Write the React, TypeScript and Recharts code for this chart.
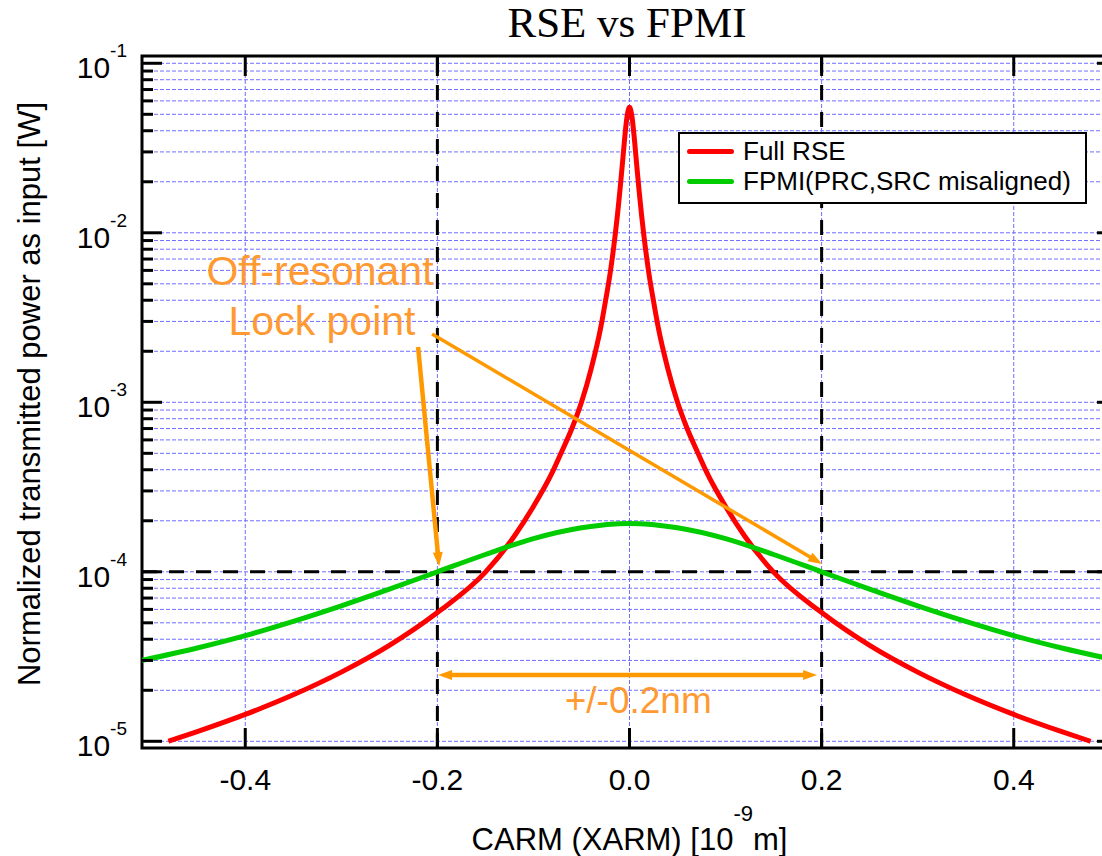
import React from 'react';
import {
  CartesianGrid,
  Legend,
  Line,
  LineChart,
  ReferenceArea,
  ReferenceDot,
  ReferenceLine,
  XAxis,
  YAxis,
} from 'recharts';

// CARM offset in 1e-9 m, transmitted power normalised to the input [W]
const rseX = [
  -0.48, -0.45, -0.4, -0.35, -0.3, -0.25, -0.2, -0.15, -0.12, -0.1, -0.08, -0.07, -0.06, -0.05,
  -0.04, -0.03, -0.025, -0.02, -0.015, -0.0125, -0.01, -0.0075, -0.005, -0.0025, 0, 0.0025, 0.005,
  0.0075, 0.01, 0.0125, 0.015, 0.02, 0.025, 0.03, 0.04, 0.05, 0.06, 0.07, 0.08, 0.1, 0.12, 0.15,
  0.2, 0.25, 0.3, 0.35, 0.4, 0.45, 0.48,
];
const rseP = [
  1.0e-5, 1.14e-5, 1.44e-5, 1.88e-5, 2.56e-5, 3.68e-5, 5.75e-5, 9.95e-5, 1.62e-4, 2.43e-4,
  3.9e-4, 5.2e-4, 7.0e-4, 1.0e-3, 1.57e-3, 2.75e-3, 3.95e-3, 5.85e-3, 9.6e-3, 1.28e-2, 1.77e-2,
  2.51e-2, 3.62e-2, 4.87e-2, 5.5e-2, 4.87e-2, 3.62e-2, 2.51e-2, 1.77e-2, 1.28e-2, 9.6e-3,
  5.85e-3, 3.95e-3, 2.75e-3, 1.57e-3, 1.0e-3, 7.0e-4, 5.2e-4, 3.9e-4, 2.43e-4, 1.62e-4, 9.95e-5,
  5.75e-5, 3.68e-5, 2.56e-5, 1.88e-5, 1.44e-5, 1.14e-5, 1.0e-5,
];

const fpmiX = [
  -0.5075, -0.45, -0.4, -0.35, -0.3, -0.25, -0.2, -0.15, -0.1, -0.05, 0, 0.05, 0.1, 0.15, 0.2,
  0.25, 0.3, 0.35, 0.4, 0.45, 0.5075,
];
const fpmiP = [
  3.0e-5, 3.55e-5, 4.2e-5, 5.1e-5, 6.3e-5, 7.9e-5, 1.0e-4, 1.265e-4, 1.57e-4, 1.82e-4, 1.93e-4,
  1.82e-4, 1.57e-4, 1.265e-4, 1.0e-4, 7.9e-5, 6.3e-5, 5.1e-5, 4.2e-5, 3.55e-5, 3.0e-5,
];

const seriesNames = ['Full RSE', 'FPMI(PRC,SRC misaligned)'];
const xTicks = [-0.4, -0.2, 0, 0.2, 0.4];
const yDecades = [1e-5, 1e-4, 1e-3, 1e-2, 1e-1];
const yMinorSteps = [2, 3, 4, 5, 6, 7, 8, 9];
const lockX = [-0.2, 0.2];
const lockPower = 1e-4;

// annotation anchors in data units
const lockTextLines = ['Off-resonant', 'Lock point'];
const lockTextX = [-0.3222, -0.3201];
const lockTextY = [4.92e-3, 2.49e-3];
const arrowLeft = [{ x: -0.2201, y: 2.12e-3 }, { x: -0.1982, y: 1.08e-4 }];
const arrowRight = [{ x: -0.2055, y: 2.53e-3 }, { x: 0.2005, y: 1.11e-4 }];
const rangeArrow = [{ x: -0.1993, y: 2.46e-5 }, { x: 0.1953, y: 2.46e-5 }];
const rangeText = { x: 0.0091, y: 1.47e-5, label: '+/-0.2nm' };

const X_DOMAIN: [number, number] = [-0.5075, 0.5075];
const Y_DOMAIN: [number, number] = [9.13e-6, 0.1104];

const rseData = rseX.map((x, i) => ({ x, p: rseP[i] }));
const fpmiData = fpmiX.map((x, i) => ({ x, p: fpmiP[i] }));
const yTicks = [
  ...yDecades,
  ...yDecades.slice(0, -1).flatMap((d) => yMinorSteps.map((m) => m * d)),
].sort((a, b) => a - b);

const SANS = '"Liberation Sans", Arial, Helvetica, sans-serif';
const SERIF = '"Liberation Serif", "Times New Roman", serif';
const ORANGE = '#ff9900';
const ORANGE_TEXT = '#ff9a33';

const CHART_W = 1122;
const CHART_H = 856;
const PLOT_LEFT = 142;
const PLOT_RIGHT = 1117;
const PLOT_TOP = 56;
const PLOT_BOTTOM = 748;

function YTick(props: any) {
  const { y, payload } = props;
  const v = payload.value;
  const major = yDecades.includes(v);
  const len = major ? 20 : 11;
  const exp = Math.round(Math.log10(v));
  return (
    <g>
      <line x1={PLOT_LEFT} x2={PLOT_LEFT + len} y1={y} y2={y} stroke="#000" strokeWidth={3} />
      <line x1={PLOT_RIGHT - len} x2={PLOT_RIGHT} y1={y} y2={y} stroke="#000" strokeWidth={3} />
      {major && (
        <text x={127} y={y + 15} textAnchor="end" fontSize={30} fontFamily={SANS} fill="#000">
          10
          <tspan fontSize={19} dy={-21}>
            {String(exp)}
          </tspan>
        </text>
      )}
    </g>
  );
}

function XTick(props: any) {
  const { x, payload } = props;
  return (
    <g>
      <line x1={x} x2={x} y1={PLOT_BOTTOM} y2={PLOT_BOTTOM - 20} stroke="#000" strokeWidth={3} />
      <line x1={x} x2={x} y1={PLOT_TOP} y2={PLOT_TOP + 20} stroke="#000" strokeWidth={3} />
      <text x={x} y={790} textAnchor="middle" fontSize={30} fontFamily={SANS} fill="#000">
        {payload.value.toFixed(1)}
      </text>
    </g>
  );
}

function arrowHead(tx: number, ty: number, fx: number, fy: number, len: number, half: number) {
  const a = Math.atan2(ty - fy, tx - fx);
  const bx = tx - len * Math.cos(a);
  const by = ty - len * Math.sin(a);
  const px = -Math.sin(a) * half;
  const py = Math.cos(a) * half;
  return `${tx},${ty} ${bx + px},${by + py} ${bx - px},${by - py}`;
}

function makeArrow(width: number, both: boolean) {
  return (p: any) => {
    const { x1, y1, x2, y2 } = p;
    const len = 14;
    const half = 5;
    const a = Math.atan2(y2 - y1, x2 - x1);
    const ex = x2 - (len - 2) * Math.cos(a);
    const ey = y2 - (len - 2) * Math.sin(a);
    const sx = both ? x1 + (len - 2) * Math.cos(a) : x1;
    const sy = both ? y1 + (len - 2) * Math.sin(a) : y1;
    return (
      <g>
        <line x1={sx} y1={sy} x2={ex} y2={ey} stroke={ORANGE} strokeWidth={width} />
        <polygon points={arrowHead(x2, y2, x1, y1, len, half)} fill={ORANGE} />
        {both && <polygon points={arrowHead(x1, y1, x2, y2, len, half)} fill={ORANGE} />}
      </g>
    );
  };
}

function LegendBox({ payload }: any) {
  const items = [...(payload || [])].sort(
    (a: any, b: any) => seriesNames.indexOf(a.value) - seriesNames.indexOf(b.value),
  );
  return (
    <div
      style={{
        boxSizing: 'border-box',
        width: 409,
        height: 72,
        border: '2.5px solid #000',
        background: '#fff',
        padding: '2px 0 0 7px',
        fontFamily: SANS,
        fontSize: 26,
        color: '#000',
      }}
    >
      {items.map((p: any) => (
        <div key={p.value} style={{ display: 'flex', alignItems: 'center', height: 30 }}>
          <div
            style={{ width: 47, height: 5, borderRadius: 3, background: p.color, marginRight: 9 }}
          />
          <span style={{ lineHeight: '30px', whiteSpace: 'nowrap' }}>{p.value}</span>
        </div>
      ))}
    </div>
  );
}

export default function App() {
  return (
    <div
      style={{
        position: 'absolute',
        left: 0,
        top: 0,
        width: 1102,
        height: 856,
        overflow: 'hidden',
        background: '#fff',
      }}
    >
      <LineChart
        width={CHART_W}
        height={CHART_H}
        margin={{ top: PLOT_TOP, right: CHART_W - PLOT_RIGHT, bottom: 0, left: 0 }}
      >
        <CartesianGrid stroke="#6f6fff" strokeDasharray="4 2" strokeWidth={1} />
        <XAxis
          dataKey="x"
          type="number"
          domain={X_DOMAIN}
          allowDataOverflow
          ticks={xTicks}
          interval={0}
          height={CHART_H - PLOT_BOTTOM}
          axisLine={false}
          tickLine={false}
          tick={(p: any) => <XTick {...p} />}
          label={{
            content: () => (
              <text x={629.5} y={850} textAnchor="middle" fontSize={31} fontFamily={SANS} fill="#000">
                CARM (XARM) [10
                <tspan fontSize={22} dy={-29}>
                  -9
                </tspan>
                <tspan dy={29}>m]</tspan>
              </text>
            ),
          }}
        />
        <YAxis
          dataKey="p"
          type="number"
          scale="log"
          domain={Y_DOMAIN}
          allowDataOverflow
          ticks={yTicks}
          interval={0}
          width={PLOT_LEFT}
          axisLine={false}
          tickLine={false}
          tick={(p: any) => <YTick {...p} />}
          label={{
            content: () => (
              <text
                transform="translate(40,394) rotate(-90)"
                textAnchor="middle"
                fontSize={31}
                fontFamily={SANS}
                fill="#000"
              >
                Normalized transmitted power as input [W]
              </text>
            ),
          }}
        />
        <ReferenceArea
          x1={X_DOMAIN[0]}
          x2={X_DOMAIN[1]}
          y1={Y_DOMAIN[0]}
          y2={Y_DOMAIN[1]}
          fill="none"
          stroke="#000"
          strokeWidth={3}
          ifOverflow="visible"
        />
        {lockX.map((x) => (
          <ReferenceLine key={x} x={x} stroke="#000" strokeWidth={3} strokeDasharray="15 12" />
        ))}
        <ReferenceLine y={lockPower} stroke="#000" strokeWidth={3} strokeDasharray="15 12" />
        <Line
          data={rseData}
          dataKey="p"
          name={seriesNames[0]}
          type="monotone"
          stroke="#ff0000"
          strokeWidth={5}
          dot={false}
          activeDot={false}
          isAnimationActive={false}
        />
        <Line
          data={fpmiData}
          dataKey="p"
          name={seriesNames[1]}
          type="monotone"
          stroke="#00cc00"
          strokeWidth={5}
          dot={false}
          activeDot={false}
          isAnimationActive={false}
        />
        <ReferenceLine segment={arrowLeft} shape={makeArrow(4.5, false)} />
        <ReferenceLine segment={arrowRight} shape={makeArrow(3.5, false)} />
        <ReferenceLine segment={rangeArrow} shape={makeArrow(4.5, true)} />
        {lockTextLines.map((t, i) => (
          <ReferenceDot
            key={t}
            x={lockTextX[i]}
            y={lockTextY[i]}
            r={0}
            shape={(p: any) => (
              <text x={p.cx} y={p.cy} textAnchor="middle" fontSize={41} fontFamily={SANS} fill={ORANGE_TEXT}>
                {t}
              </text>
            )}
          />
        ))}
        <ReferenceDot
          x={rangeText.x}
          y={rangeText.y}
          r={0}
          shape={(p: any) => (
            <text x={p.cx} y={p.cy} textAnchor="middle" fontSize={37} fontFamily={SANS} fill={ORANGE_TEXT}>
              {rangeText.label}
            </text>
          )}
        />
        <Legend
          layout="horizontal"
          verticalAlign="middle"
          align="center"
          wrapperStyle={{ left: 678, top: 132, width: 409, height: 72 }}
          content={(p: any) => <LegendBox {...p} />}
        />
      </LineChart>
      <svg
        width={1102}
        height={56}
        style={{ position: 'absolute', left: 0, top: 0, pointerEvents: 'none' }}
      >
        <text x={627} y={37} textAnchor="middle" fontSize={43} fontFamily={SERIF} fill="#000">
          RSE vs FPMI
        </text>
      </svg>
    </div>
  );
}
